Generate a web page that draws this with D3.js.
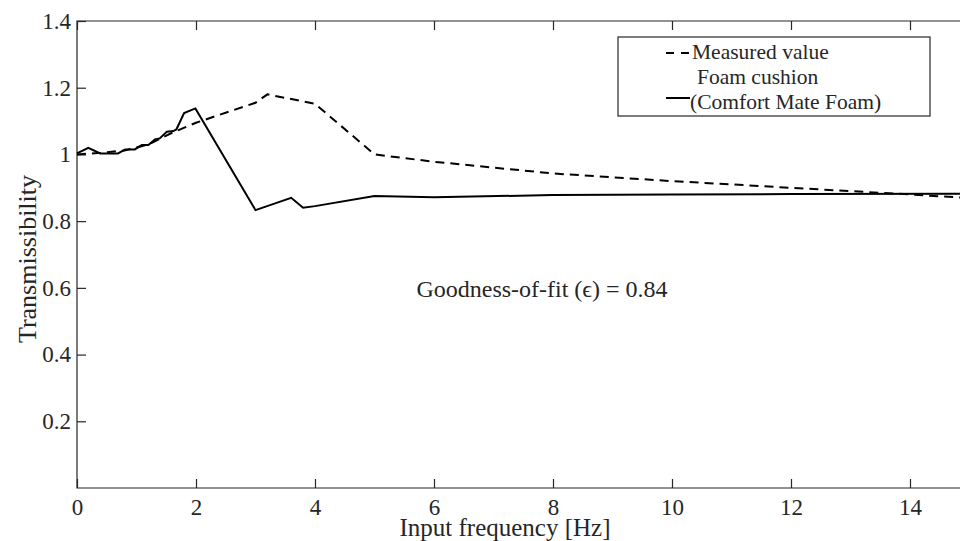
<!DOCTYPE html>
<html>
<head>
<meta charset="utf-8">
<script src="https://cdn.jsdelivr.net/npm/d3@7"></script>
<style>
  body { margin: 0; background: #fff; }
  svg text { font-family: "Liberation Serif", "DejaVu Serif", serif; fill: #262626; }
</style>
</head>
<body>
<svg id="chart" width="960" height="541"></svg>
<script>
// measured transmissibility (dashed)
const measuredFreq = [0, 0.4, 0.8, 1.2, 1.6, 2, 3, 3.2, 4, 5, 6, 8, 10, 12, 14, 15];
const measuredVal  = [1.0, 1.005, 1.012, 1.03, 1.065, 1.095, 1.155, 1.18, 1.152, 1.0, 0.978, 0.943, 0.92, 0.9, 0.88, 0.869];

// foam cushion model (solid)
const foamFreq = [0, 0.19, 0.39, 0.69, 0.81, 0.97, 1.09, 1.2, 1.31, 1.39, 1.51, 1.62, 1.67, 1.8, 1.99, 3, 3.6, 3.8, 4, 5, 6, 8, 10, 12, 15];
const foamVal  = [1.003, 1.02, 1.003, 1.003, 1.015, 1.015, 1.028, 1.028, 1.045, 1.048, 1.068, 1.07, 1.075, 1.124, 1.138, 0.833, 0.87, 0.84, 0.845, 0.875, 0.872, 0.878, 0.88, 0.881, 0.882];

const xTicks = [0, 2, 4, 6, 8, 10, 12, 14];
const yTicks = [0.2, 0.4, 0.6, 0.8, 1, 1.2, 1.4];
const legendLabels = ["Measured value", "Foam cushion", "(Comfort Mate Foam)"];
const annotation = "Goodness-of-fit (\u03f5) = 0.84";

const svg = d3.select("#chart");
const plotLeft = 77, plotTop = 21, plotBottom = 488;

const x = d3.scaleLinear().domain([0, 15]).range([plotLeft, plotLeft + 15 * 59.5]);
const y = d3.scaleLinear().domain([0, 1.4]).range([plotBottom, plotTop]);

const axisColor = "#262626";

// frame (top + left + bottom), right side runs off the canvas
svg.append("path")
  .attr("d", `M${x(15)},${plotTop}H${plotLeft}V${plotBottom}H${x(15)}`)
  .attr("fill", "none")
  .attr("stroke", axisColor)
  .attr("stroke-width", 1.2);

// ticks point inward, top axis mirrors the bottom one
const xAxisB = svg.append("g").attr("transform", `translate(0,${plotBottom})`)
  .call(d3.axisBottom(x).tickValues(xTicks).tickSizeInner(-9).tickSizeOuter(0).tickPadding(11).tickFormat(d3.format("d")));
const xAxisT = svg.append("g").attr("transform", `translate(0,${plotTop})`)
  .call(d3.axisTop(x).tickValues(xTicks).tickSizeInner(-9).tickSizeOuter(0).tickFormat(""));
const yAxisL = svg.append("g").attr("transform", `translate(${plotLeft},0)`)
  .call(d3.axisLeft(y).tickValues(yTicks).tickSizeInner(-9).tickSizeOuter(0).tickPadding(6).tickFormat(d => d === 1 ? "1" : d3.format(".1f")(d)));

[xAxisB, xAxisT, yAxisL].forEach(g => {
  g.select(".domain").remove();
  g.selectAll(".tick line").attr("stroke", axisColor).attr("stroke-width", 1.2);
  g.selectAll(".tick text").attr("font-size", 23).attr("fill", axisColor);
});

// series
const line = d3.line().x(d => x(d[0])).y(d => y(d[1]));

svg.append("path")
  .datum(d3.zip(measuredFreq, measuredVal))
  .attr("d", line)
  .attr("fill", "none")
  .attr("stroke", "#000")
  .attr("stroke-width", 2)
  .attr("stroke-dasharray", "9,6");

svg.append("path")
  .datum(d3.zip(foamFreq, foamVal))
  .attr("d", line)
  .attr("fill", "none")
  .attr("stroke", "#000")
  .attr("stroke-width", 2);

// axis labels
svg.append("text")
  .attr("x", 505).attr("y", 536)
  .attr("text-anchor", "middle")
  .attr("font-size", 25)
  .text("Input frequency [Hz]");

svg.append("text")
  .attr("transform", "translate(36,259) rotate(-90)")
  .attr("text-anchor", "middle")
  .attr("font-size", 26)
  .text("Transmissibility");

// annotation
svg.append("text")
  .attr("x", 542).attr("y", 297)
  .attr("text-anchor", "middle")
  .attr("font-size", 24)
  .attr("fill", "#000")
  .text(annotation);

// legend
const lg = svg.append("g");
lg.append("rect")
  .attr("x", 618).attr("y", 37).attr("width", 312).attr("height", 79)
  .attr("fill", "#fff").attr("stroke", axisColor).attr("stroke-width", 1.2);
lg.append("line")
  .attr("x1", 666).attr("x2", 690).attr("y1", 53).attr("y2", 53)
  .attr("stroke", "#000").attr("stroke-width", 2).attr("stroke-dasharray", "8,7");
lg.append("line")
  .attr("x1", 666).attr("x2", 690).attr("y1", 98).attr("y2", 98)
  .attr("stroke", "#000").attr("stroke-width", 2);
lg.append("text").attr("x", 692).attr("y", 59).attr("font-size", 21.5).attr("fill", "#000").text(legendLabels[0]);
lg.append("text").attr("x", 697).attr("y", 84).attr("font-size", 21.5).attr("fill", "#000").text(legendLabels[1]);
lg.append("text").attr("x", 690).attr("y", 109).attr("font-size", 21.5).attr("fill", "#000").text(legendLabels[2]);
</script>
</body>
</html>
